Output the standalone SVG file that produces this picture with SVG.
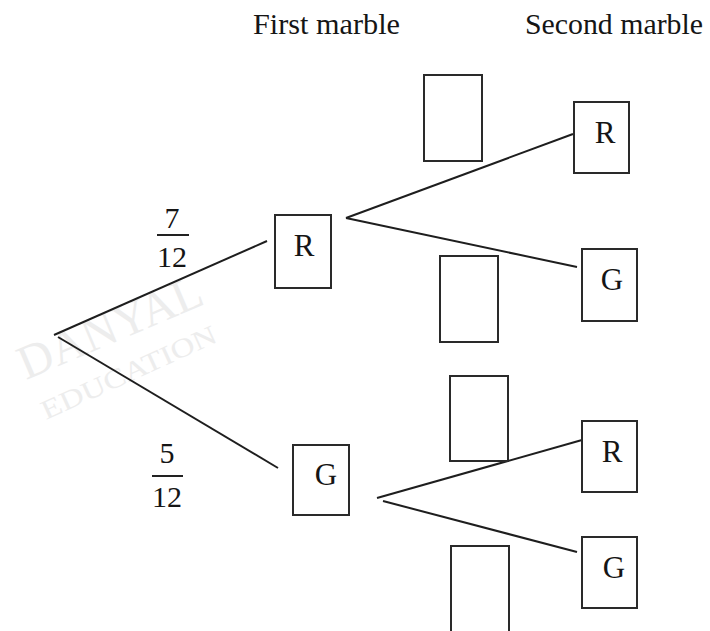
<svg xmlns="http://www.w3.org/2000/svg" width="710" height="631" viewBox="0 0 710 631">
<style>
text{font-family:"Liberation Serif","Times New Roman",serif;fill:#151515}
.box{fill:none;stroke:#2a2a2a;stroke-width:2}
.ln{stroke:#1e1e1e;stroke-width:2;fill:none}
.lbl{font-size:31px;text-anchor:middle}
.hd{font-size:29px}
.fr{font-size:30px;text-anchor:middle}
.wm{fill:#ededed}
</style>
<rect width="710" height="631" fill="#fff"/>
<g id="watermark">
<text class="wm" x="26" y="380" font-size="48" transform="rotate(-23 26 380)" textLength="196" lengthAdjust="spacingAndGlyphs">DANYAL</text>
<text class="wm" x="46" y="420" font-size="27" transform="rotate(-24.5 46 420)" textLength="190" lengthAdjust="spacingAndGlyphs">EDUCATION</text>
</g>
<g id="headers">
<text class="hd" x="253" y="34" textLength="147" lengthAdjust="spacingAndGlyphs">First marble</text>
<text class="hd" x="525" y="34" textLength="178" lengthAdjust="spacingAndGlyphs">Second marble</text>
</g>
<g id="connectors">
<line class="ln" x1="54" y1="335" x2="267" y2="241"/>
<line class="ln" x1="58" y1="337" x2="278" y2="468"/>
<line class="ln" x1="346" y1="218" x2="573" y2="134"/>
<line class="ln" x1="346" y1="218" x2="577" y2="267"/>
<line class="ln" x1="377" y1="498" x2="582" y2="440"/>
<line class="ln" x1="383" y1="501" x2="577" y2="552"/>
</g>
<g id="prob-7-12">
<text class="fr" x="172" y="228">7</text>
<line x1="157" y1="235" x2="189" y2="235" stroke="#222" stroke-width="2"/>
<text class="fr" x="172" y="267">12</text>
</g>
<g id="prob-5-12">
<text class="fr" x="167" y="463">5</text>
<line x1="152" y1="476" x2="183" y2="476" stroke="#222" stroke-width="2"/>
<text class="fr" x="167" y="507">12</text>
</g>
<g id="first-R">
<rect class="box" x="275" y="215" width="56" height="73"/>
<text class="lbl" x="304" y="256">R</text>
</g>
<g id="first-G">
<rect class="box" x="293" y="445" width="56" height="70"/>
<text class="lbl" x="326" y="485">G</text>
</g>
<g id="blank-RR">
<rect class="box" x="424" y="75" width="58" height="86"/>
</g>
<g id="blank-RG">
<rect class="box" x="440" y="256" width="58" height="86"/>
</g>
<g id="blank-GR">
<rect class="box" x="450" y="376" width="58" height="85"/>
</g>
<g id="blank-GG">
<rect class="box" x="451" y="546" width="58" height="90"/>
</g>
<g id="second-RR">
<rect class="box" x="574" y="102" width="55" height="71"/>
<text class="lbl" x="605" y="143">R</text>
</g>
<g id="second-RG">
<rect class="box" x="582" y="249" width="55" height="72"/>
<text class="lbl" x="612" y="290">G</text>
</g>
<g id="second-GR">
<rect class="box" x="582" y="421" width="55" height="71"/>
<text class="lbl" x="612" y="462">R</text>
</g>
<g id="second-GG">
<rect class="box" x="582" y="537" width="55" height="71"/>
<text class="lbl" x="614" y="578">G</text>
</g>
</svg>
